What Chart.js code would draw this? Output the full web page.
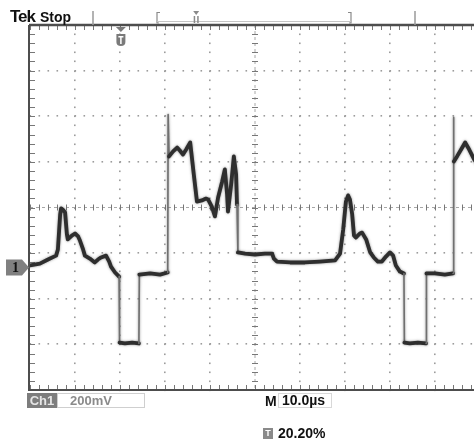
<!DOCTYPE html>
<html><head><meta charset="utf-8">
<script src="https://cdn.jsdelivr.net/npm/chart.js@4/dist/chart.umd.min.js"></script>
<style>
html,body{margin:0;padding:0;background:#fff;overflow:hidden;width:474px;height:440px;}
#wrap{position:absolute;left:0;top:0;width:480px;height:440px;}
.t{position:absolute;font-family:"Liberation Sans",Arial,sans-serif;font-weight:bold;white-space:nowrap;line-height:1;}
</style></head><body>
<div id="wrap"><canvas id="c"></canvas></div>
<div class="t" style="left:10px;top:8px;font-size:17px;letter-spacing:-1px;color:#111">Tek</div>
<div class="t" style="left:40px;top:10px;font-size:14px;color:#111">Stop</div>
<div class="t" style="left:12px;top:261px;font-size:14px;font-family:'Liberation Serif',serif;color:#111">1</div>
<div class="t" style="left:27px;top:393px;width:30px;height:15px;background:#7d7d7d;color:#e6e6e6;font-size:13px;line-height:15px;text-align:center">Ch1</div>
<div class="t" style="left:57px;top:393px;width:88px;height:15px;border:1px solid #cfcfcf;color:#8a8a8a;font-size:13px;line-height:13px;padding-left:12px;box-sizing:border-box">200mV</div>
<div class="t" style="left:265px;top:394px;font-size:14px;color:#111">M</div>
<div class="t" style="left:278px;top:393px;width:54px;height:15px;border:1px solid #d8d8d8;color:#111;font-size:14px;line-height:13px;padding-left:3px;box-sizing:border-box">10.0µs</div>
<div class="t" style="left:263px;top:428px;width:10px;height:11px;background:#8a8a8a;color:#fff;font-size:9px;line-height:11px;text-align:center">T</div>
<div class="t" style="left:278px;top:426px;font-size:14px;color:#111">20.20%</div>
<script>
// Waveform: time (µs) and level (mV, relative to screen centre)
const timeUs = [0,2.2,4.0,5.8,6.2,6.7,6.9,7.3,7.8,8.2,8.4,9.3,10.0,10.7,11.1,11.8,12.2,13.3,14.4,15.1,15.8,16.9,17.6,18.0,18.9,19.8,
  19.9,21.1,22.7,24.2,24.3,26.7,28.9,30.6,30.7,30.9,31.8,32.7,33.3,34.0,34.7,35.6,36.4,37.1,38.2,39.1,39.6,40.4,41.1,41.8,42.7,43.3,43.8,44.0,44.7,45.3,45.8,46.0,
  46.2,47.8,50.0,52.2,53.8,54.2,54.9,57.8,61.1,64.4,67.8,68.9,69.6,70.2,70.7,71.1,71.6,72.0,72.4,73.3,73.8,74.7,75.6,76.4,77.3,78.2,79.1,80.0,80.7,81.3,82.2,83.1,
  83.2,84.4,86.2,88.0,88.1,90.0,92.2,94.0,94.1,94.2,94.9,95.8,96.7,97.6,98.7,100];
const levelMv = [-254,-246,-228,-211,-184,-31,-4,-9,-22,-118,-140,-123,-114,-127,-145,-184,-211,-224,-241,-228,-219,-211,-237,-259,-285,-303,
  -592,-596,-592,-596,-294,-289,-294,-285,408,224,246,263,250,232,254,285,145,26,31,39,35,4,-39,44,114,167,57,-18,101,224,145,13,
  -197,-202,-206,-202,-202,-224,-237,-241,-241,-237,-232,-202,-96,26,53,35,-31,-123,-132,-114,-110,-140,-197,-219,-237,-237,-215,-197,-211,-254,-281,-289,
  -592,-596,-592,-596,-289,-289,-294,-289,395,202,224,254,285,254,211,175];
const divTimeUs = 10;      // M 10.0 µs / div
const divLevelMv = 200;    // Ch1 200 mV / div
const groundLevelMv = -263;
const triggerTimeUs = 20.2;

const graticule = {
  id:'graticule',
  beforeDatasetsDraw(chart){
    const {ctx, chartArea:a, scales:{x,y}} = chart;
    const minT = 0, maxT = 10*divTimeUs, minV = -4*divLevelMv, maxV = 4*divLevelMv;
    const mT = divTimeUs/5, mV = divLevelMv/5;
    ctx.save();
    ctx.fillStyle = '#9c9c9c';
    for (let k=1;k<10;k++){ if(k===5) continue; const px=x.getPixelForValue(k*divTimeUs);
      for (let v=minV; v<=maxV+1; v+=mV){ const py=y.getPixelForValue(v); ctx.fillRect(Math.round(px)-1,Math.round(py)-0.5,1.6,1.6);} }
    for (let k=-3;k<=3;k++){ if(k===0) continue; const py=y.getPixelForValue(k*divLevelMv);
      for (let t=minT; t<=maxT+0.01; t+=mT){ const px=x.getPixelForValue(t); ctx.fillRect(Math.round(px)-0.5,Math.round(py)-1,1.6,1.6);} }
    const cx = x.getPixelForValue(5*divTimeUs), cy = y.getPixelForValue(0);
    ctx.strokeStyle='#a8a8a8'; ctx.lineWidth=1; ctx.setLineDash([3,3]);
    ctx.beginPath(); ctx.moveTo(a.left,cy); ctx.lineTo(a.right,cy); ctx.moveTo(cx,a.top); ctx.lineTo(cx,a.bottom); ctx.stroke();
    ctx.setLineDash([]); ctx.strokeStyle='#777';
    ctx.beginPath();
    for (let t=minT; t<=maxT+0.01; t+=mT){ const px=Math.round(x.getPixelForValue(t))+0.5; ctx.moveTo(px,cy-3); ctx.lineTo(px,cy+3);
      ctx.moveTo(px,a.top); ctx.lineTo(px,a.top+5); ctx.moveTo(px,a.bottom); ctx.lineTo(px,a.bottom-5); }
    for (let v=minV; v<=maxV+1; v+=mV){ const py=Math.round(y.getPixelForValue(v))+0.5; ctx.moveTo(cx-3,py); ctx.lineTo(cx+3,py);
      ctx.moveTo(a.left,py); ctx.lineTo(a.left+5,py); }
    ctx.stroke();
    ctx.strokeStyle='#4d4d4d'; ctx.lineWidth=2.5;
    ctx.beginPath(); ctx.moveTo(a.left-1,a.top); ctx.lineTo(a.right+5,a.top); ctx.stroke();
    ctx.lineWidth=2;
    ctx.beginPath(); ctx.moveTo(a.left-1,a.top); ctx.lineTo(a.left-1,a.bottom); ctx.lineTo(a.right+5,a.bottom); ctx.stroke();
    ctx.restore();
  },
  beforeDatasetDraw(chart){
    const ctx = chart.ctx; ctx.save();
    ctx.shadowColor = 'rgba(40,40,40,0.55)'; ctx.shadowBlur = 2.5;
  },
  afterDatasetDraw(chart){ chart.ctx.restore(); },
  afterDraw(chart){
    const {ctx, chartArea:a, scales:{x,y}} = chart;
    ctx.save();
    ctx.strokeStyle='#9a9a9a'; ctx.lineWidth=1.5;
    ctx.beginPath();
    [93,415].forEach(px=>{ctx.moveTo(px,11); ctx.lineTo(px,a.top);});
    ctx.stroke();
    const b0=157, b1=351;
    ctx.strokeStyle='#8a8a8a'; ctx.lineWidth=1.2;
    ctx.beginPath();
    ctx.moveTo(b0+3,12.5); ctx.lineTo(b0,12.5); ctx.lineTo(b0,23); ctx.lineTo(b0+2,23);
    ctx.moveTo(b1-3,12.5); ctx.lineTo(b1,12.5); ctx.lineTo(b1,23); ctx.lineTo(b1-2,23);
    ctx.stroke();
    ctx.strokeStyle='#c4c4c4'; ctx.lineWidth=1;
    ctx.beginPath(); ctx.moveTo(b0,21.5); ctx.lineTo(b1,21.5); ctx.stroke();
    const rt = b0 + (b1-b0)*triggerTimeUs/(10*divTimeUs);
    ctx.fillStyle='#8a8a8a';
    ctx.beginPath(); ctx.moveTo(rt-3,11); ctx.lineTo(rt+3,11); ctx.lineTo(rt,15); ctx.closePath(); ctx.fill();
    ctx.fillRect(rt-2.5,16,1.5,7); ctx.fillRect(rt+1,16,1.5,7);
    const tx = x.getPixelForValue(triggerTimeUs);
    ctx.fillStyle='#7a7a7a';
    ctx.beginPath(); ctx.moveTo(tx-5,a.top+2); ctx.lineTo(tx+5,a.top+2); ctx.lineTo(tx,a.top+7); ctx.closePath(); ctx.fill();
    ctx.beginPath(); ctx.moveTo(tx-4.5,a.top+9); ctx.lineTo(tx+4.5,a.top+9); ctx.lineTo(tx+4.5,a.top+17); ctx.quadraticCurveTo(tx+4.5,a.top+21,tx,a.top+21); ctx.quadraticCurveTo(tx-4.5,a.top+21,tx-4.5,a.top+17); ctx.closePath(); ctx.fill();
    ctx.fillStyle='#fff'; ctx.fillRect(tx-2.5,a.top+11,5,1.5); ctx.fillRect(tx-0.75,a.top+11,1.5,8);
    const gy = y.getPixelForValue(groundLevelMv);
    ctx.fillStyle='#808080';
    ctx.beginPath(); ctx.moveTo(6,gy-8); ctx.lineTo(22,gy-8); ctx.lineTo(a.left-1,gy); ctx.lineTo(22,gy+8); ctx.lineTo(6,gy+8); ctx.closePath(); ctx.fill();
    ctx.restore();
  }
};

const steep = c => Math.abs(c.p1.x-c.p0.x) < 3 && Math.abs(c.p1.y-c.p0.y) > 38;
new Chart(document.getElementById('c'), {
  type:'line',
  data:{ datasets:[{ data: timeUs.map((t,i)=>({x:t,y:levelMv[i]})),
    borderColor:'#2e2e2e', borderWidth:3.8, pointRadius:0, tension:0, borderJoinStyle:'round', borderCapStyle:'round',
    segment:{ borderColor: c=> steep(c)?'#707070':undefined, borderWidth: c=> steep(c)?1.6:undefined } }]},
  options:{ responsive:true, maintainAspectRatio:false, animation:false, devicePixelRatio:1,
    layout:{padding:{left:30,top:25,right:0,bottom:50}},
    scales:{ x:{type:'linear',min:0,max:10*divTimeUs,display:false}, y:{type:'linear',min:-4*divLevelMv,max:4*divLevelMv,display:false}},
    plugins:{legend:{display:false},tooltip:{enabled:false}} },
  plugins:[graticule]
});
</script>
</body></html>
